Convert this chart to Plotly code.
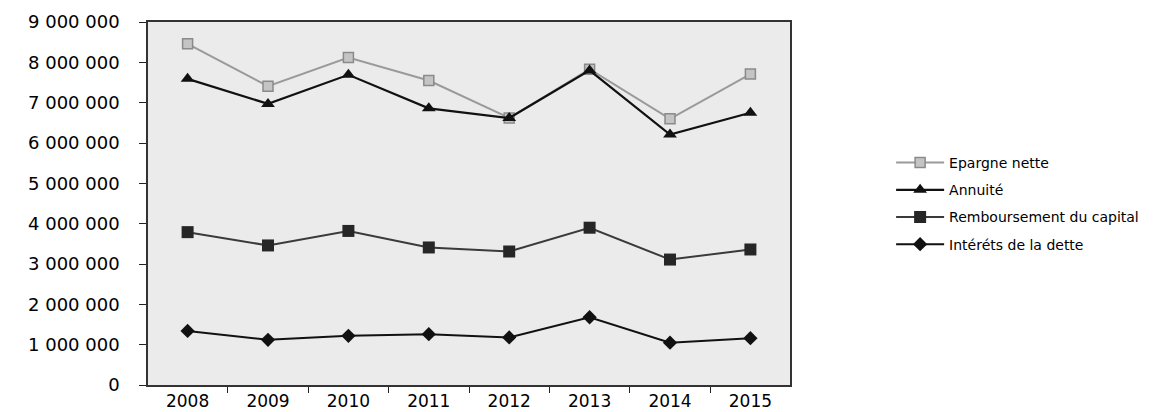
import plotly.graph_objects as go

years = ["2008", "2009", "2010", "2011", "2012", "2013", "2014", "2015"]
epargne_nette = [8460000, 7410000, 8120000, 7550000, 6620000, 7830000, 6600000, 7710000]
annuite = [7590000, 6970000, 7690000, 6860000, 6620000, 7800000, 6210000, 6750000]
remboursement_capital = [3790000, 3460000, 3820000, 3410000, 3310000, 3900000, 3110000, 3360000]
interets_dette = [1340000, 1120000, 1220000, 1260000, 1180000, 1680000, 1050000, 1160000]

y_tick_vals = [0, 1000000, 2000000, 3000000, 4000000, 5000000, 6000000, 7000000, 8000000, 9000000]
y_tick_text = ["0", "1 000 000", "2 000 000", "3 000 000", "4 000 000", "5 000 000",
               "6 000 000", "7 000 000", "8 000 000", "9 000 000"]

fig = go.Figure()
fig.add_trace(go.Scatter(
    x=years, y=epargne_nette, name="Epargne nette", mode="lines+markers", legendgroup="g1",
    line=dict(color="#9a9a9a", width=2),
    marker=dict(symbol="square", size=10, color="#c4c4c4", line=dict(color="#8a8a8a", width=1.5)),
))
fig.add_trace(go.Scatter(
    x=years, y=annuite, name="Annuité", mode="lines+markers", legendgroup="g2",
    line=dict(color="#111111", width=2.2),
    marker=dict(symbol="triangle-up", size=12, color="#111111"),
))
fig.add_trace(go.Scatter(
    x=years, y=remboursement_capital, name="Remboursement du capital", mode="lines+markers",
    legendgroup="g3",
    line=dict(color="#3a3a3a", width=2),
    marker=dict(symbol="square", size=12, color="#262626"),
))
fig.add_trace(go.Scatter(
    x=years, y=interets_dette, name="Intéréts de la dette", mode="lines+markers", legendgroup="g4",
    line=dict(color="#111111", width=2),
    marker=dict(symbol="diamond", size=11, color="#111111"),
))

fig.update_layout(
    width=1151, height=404,
    margin=dict(l=140, r=369, t=14, b=27),
    paper_bgcolor="#ffffff",
    plot_bgcolor="#ebebeb",
    font=dict(family="DejaVu Sans", color="#000000"),
    showlegend=True,
    legend=dict(
        x=1.1575, xanchor="left", y=0.5, yanchor="middle",
        font=dict(family="DejaVu Sans", size=14, color="#000000"),
        itemwidth=48, bgcolor="rgba(0,0,0,0)", tracegroupgap=6,
    ),
)
fig.update_xaxes(
    type="category", tickson="boundaries", ticks="outside", ticklen=6,
    tickcolor="#222222", showline=True, linecolor="#333333", linewidth=1.5,
    mirror=True, showgrid=False, automargin=False,
    tickfont=dict(family="DejaVu Sans", size=17, color="#000000"),
)
fig.update_yaxes(
    range=[0, 9000000], tickvals=y_tick_vals, ticktext=y_tick_text,
    ticks="outside", ticklen=7, tickcolor="#222222", ticklabelstandoff=16,
    showline=True, linecolor="#333333", linewidth=1.5, mirror=True,
    showgrid=False, zeroline=False, automargin=False,
    tickfont=dict(family="DejaVu Sans", size=18, color="#000000"),
)

fig.write_html("out.html")
